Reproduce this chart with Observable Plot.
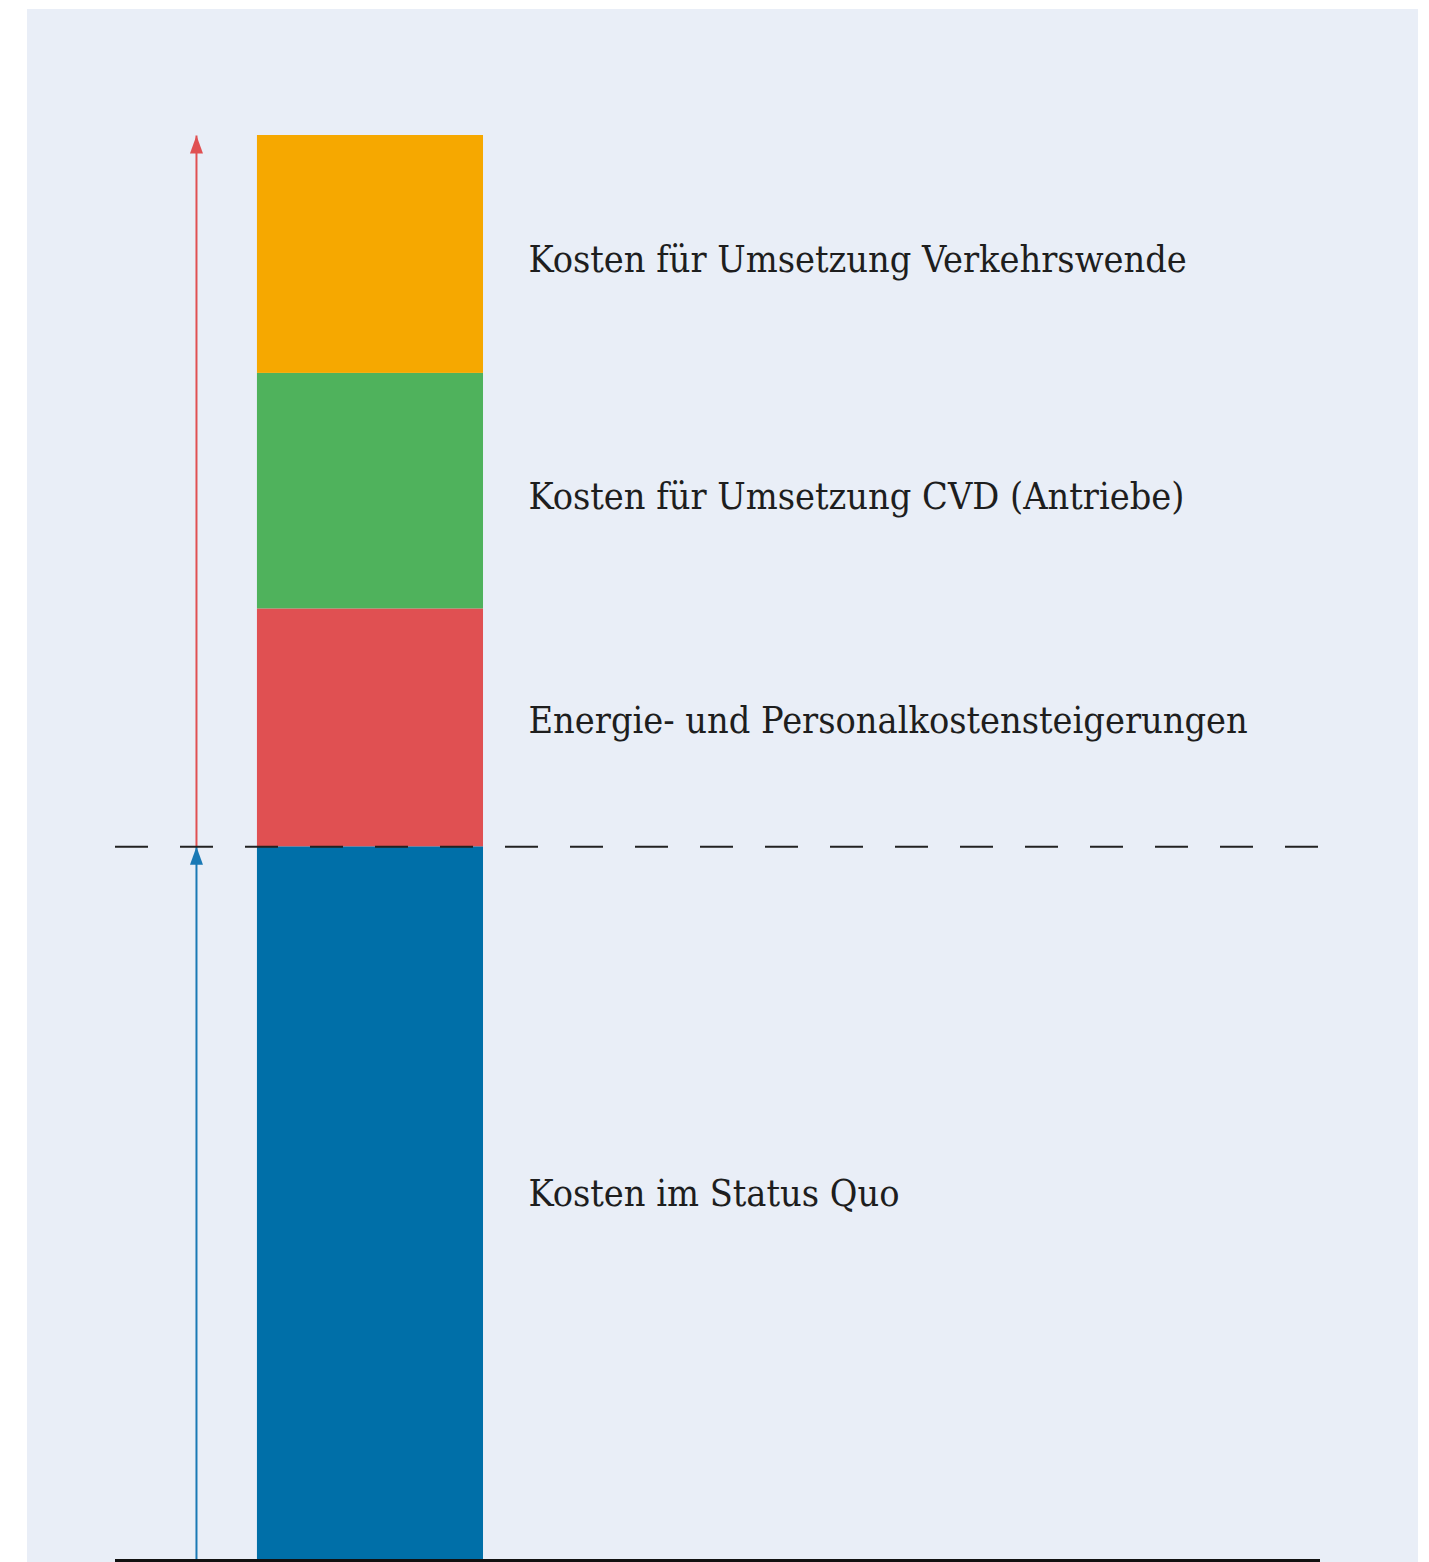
<!DOCTYPE html>
<html>
<head>
<meta charset="utf-8">
<script src="https://cdn.jsdelivr.net/npm/d3@7"></script>
<script src="https://cdn.jsdelivr.net/npm/@observablehq/plot@0.6"></script>
<style>
  html, body { margin: 0; padding: 0; background: #ffffff; }
  #wrap { position: relative; width: 1429px; height: 1562px; overflow: hidden; }
  #panel { position: absolute; left: 27px; top: 9px; width: 1391px; height: 1553px; background: #e9eef7; }
  #chart { position: absolute; left: 0; top: 0; }
  #chart svg { background: transparent; }
</style>
</head>
<body>
<div id="wrap"><div id="panel"></div><div id="chart"></div></div>
<script>
// Categories (bottom to top) and their values
const categories = [
  "Kosten im Status Quo",
  "Energie- und Personalkostensteigerungen",
  "Kosten für Umsetzung CVD (Antriebe)",
  "Kosten für Umsetzung Verkehrswende"
];
const values = [3.0, 1.0, 0.99, 1.0];
const colors = ["#006fa8", "#e05052", "#4fb25c", "#f6a800"];

const cum = Array.from(d3.cumsum(values));
const segments = categories.map((c, i) => ({label: c, value: values[i], color: colors[i], mid: cum[i] - values[i] / 2}));
const baseValue = values[0];
const total = d3.sum(values);
const arrows = [
  {from: 0, to: baseValue, color: "#1a79b5"},
  {from: baseValue, to: total, color: "#e05052"}
];

function triangle(color, context) {
  const m = d3.create("svg:marker")
    .attr("viewBox", "-18 -7 18 14")
    .attr("markerUnits", "userSpaceOnUse")
    .attr("markerWidth", 18)
    .attr("markerHeight", 14)
    .attr("orient", "auto")
    .attr("fill", color)
    .attr("stroke", "none");
  m.append("path").attr("d", "M-18,-6.5L0,0L-18,6.5Z");
  return m.node();
}

const font = "'DejaVu Serif Condensed', 'DejaVu Serif', serif";
const labelNudge = [-10, -7, 6, 6]; // vertical label offsets in px (style)

const chart = Plot.plot({
  width: 1429,
  height: 1562,
  marginLeft: 115,
  marginRight: 109,
  marginTop: 135,
  marginBottom: 2,
  style: {background: "transparent", fontFamily: font},
  x: {domain: [0, 1], axis: null},
  y: {domain: [0, total], axis: null},
  marks: [
    Plot.rectY(segments, Plot.stackY({
      y: "value",
      x1: () => 0.1178,
      x2: () => 0.3054,
      fill: "color"
    })),
    Plot.link(arrows, {
      x1: () => 0.0672, x2: () => 0.0672,
      y1: "from", y2: "to",
      stroke: "color", strokeWidth: 2,
      markerEnd: triangle
    }),
    Plot.ruleY([baseValue], {stroke: "#222", strokeWidth: 2, strokeDasharray: "33,32"}),
    Plot.ruleY([0], {stroke: "#111", strokeWidth: 3}),
    ...segments.map((s, i) => Plot.text([s], {
      y: "mid",
      x: () => 0.3427,
      text: "label",
      textAnchor: "start",
      fill: "#1e1e1e",
      fontSize: 37.5,
      fontFamily: font,
      dy: labelNudge[i]
    }))
  ]
});
document.getElementById("chart").appendChild(chart);
</script>
</body>
</html>
